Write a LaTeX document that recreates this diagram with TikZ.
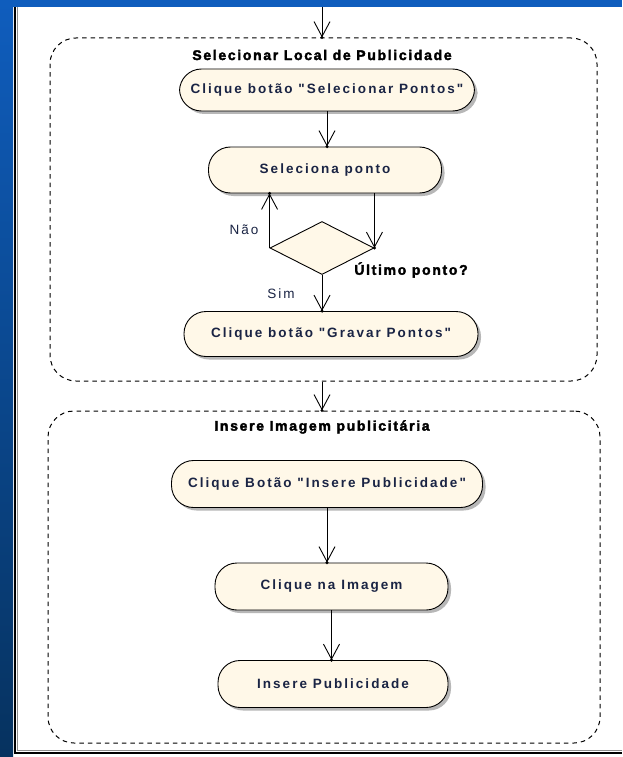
\documentclass[tikz,border=0pt]{standalone}
\usepackage{fontspec}
\setmainfont{Liberation Sans}
\newfontfamily\boxfont{Liberation Sans}[LetterSpace=15]
\newfontfamily\headfont{Liberation Sans}[LetterSpace=12,BoldFeatures={FakeBold=2.5}]
\usetikzlibrary{shapes.geometric,arrows.meta,shadows}
\definecolor{slideblue}{HTML}{0F5DBD}
\definecolor{slidedark}{HTML}{06325F}
\definecolor{pillfill}{HTML}{FFF8E8}
\definecolor{inktext}{HTML}{1A2444}
\tikzset{
  pill/.style={rectangle, rounded corners=22pt, draw=black, line width=0.9pt,
    fill=pillfill, inner sep=0pt, text=inktext,
    font=\boxfont\bfseries\fontsize{13.5}{15}\selectfont,
    drop shadow={shadow xshift=3pt, shadow yshift=-3pt, fill=black!35, opacity=0.8}},
  choice/.style={diamond, aspect=2, draw=black, line width=0.9pt, fill=pillfill,
    minimum width=104pt, minimum height=53pt, inner sep=0pt},
  region/.style={rectangle, rounded corners=26pt, draw=black, line width=1pt,
    dash pattern=on 4.5pt off 4pt, inner sep=0pt},
  flow/.style={draw=black, line width=0.9pt,
    -{Straight Barb[length=15pt,width=16pt,line width=0.9pt]}},
  heading/.style={inner sep=0pt, text=black,
    font=\headfont\bfseries\fontsize{14}{16}\selectfont},
  guard/.style={inner sep=0pt, text=inktext,
    font=\boxfont\fontsize{13.5}{15}\selectfont},
}
\newcommand{\tipdot}[1]{\fill (#1) circle[radius=1.7pt];}
\begin{document}
\begin{tikzpicture}[x=1pt,y=-1pt]
  \useasboundingbox (0,0) rectangle (622,757);
  % slide background and white panel
  \fill[white] (13,7) rectangle (622,757);
  \shade[top color=slideblue, bottom color=slidedark] (0,0) rectangle (13,757);
  \fill[slideblue] (0,0) rectangle (622,7);
  \draw[black!45, line width=0.8pt] (17.3,7) -- (17.3,750.8) -- (622,750.8);
  \draw[black, line width=1.2pt] (15,7) -- (15,753) -- (622,753);

  % partitions
  \node[region, minimum width=547pt, minimum height=343pt] (reg1) at (323.5,209.5) {};
  \node[region, minimum width=552pt, minimum height=332pt] (reg2) at (324,577) {};
  \node[heading] (h1) at (322,55) {Selecionar Local de Publicidade};
  \node[heading] (h2) at (322,427) {Insere Imagem publicitária};

  % activities
  \node[pill, minimum width=295pt, minimum height=42pt] (n1) at (327,90) {Clique botão "Selecionar Pontos"};
  \node[pill, minimum width=233pt, minimum height=46pt] (n2) at (325,170) {Seleciona ponto};
  \node[choice] (dec) at (322,248) {};
  \node[pill, minimum width=294pt, minimum height=45pt] (n3) at (331,334) {Clique botão "Gravar Pontos"};
  \node[pill, minimum width=311pt, minimum height=47pt] (n4) at (327,484) {Clique Botão "Insere Publicidade"};
  \node[pill, minimum width=233pt, minimum height=47pt] (n5) at (331.5,586.5) {Clique na Imagem};
  \node[pill, minimum width=230pt, minimum height=47pt] (n6) at (333,684) {Insere Publicidade};

  % guard labels
  \node[guard] (gno) at (244,230) {Não};
  \node[guard] (gyes) at (281,294) {Sim};
  \node[heading] (glast) at (411,270) {Último ponto?};

  % control flow
  \coordinate (entry) at (322,7);
  \draw[flow] (entry) -- (entry |- reg1.north);
  \tipdot{entry |- reg1.north}
  \draw[flow] (n1.south) -- (n1.south |- n2.north);
  \tipdot{n1.south |- n2.north}
  \draw[flow] (n2.south -| dec.east) -- (dec.east);
  \tipdot{dec.east}
  \draw[flow] (dec.west) -- (dec.west |- n2.south);
  \tipdot{dec.west |- n2.south}
  \draw[flow] (dec.south) -- (dec.south |- n3.north);
  \tipdot{dec.south |- n3.north}
  \draw[flow] (reg1.south -| entry) -- (reg2.north -| entry);
  \tipdot{reg2.north -| entry}
  \draw[flow] (n4.south) -- (n4.south |- n5.north);
  \tipdot{n4.south |- n5.north}
  \draw[flow] (n5.south) -- (n5.south |- n6.north);
  \tipdot{n5.south |- n6.north}
\end{tikzpicture}
\end{document}
